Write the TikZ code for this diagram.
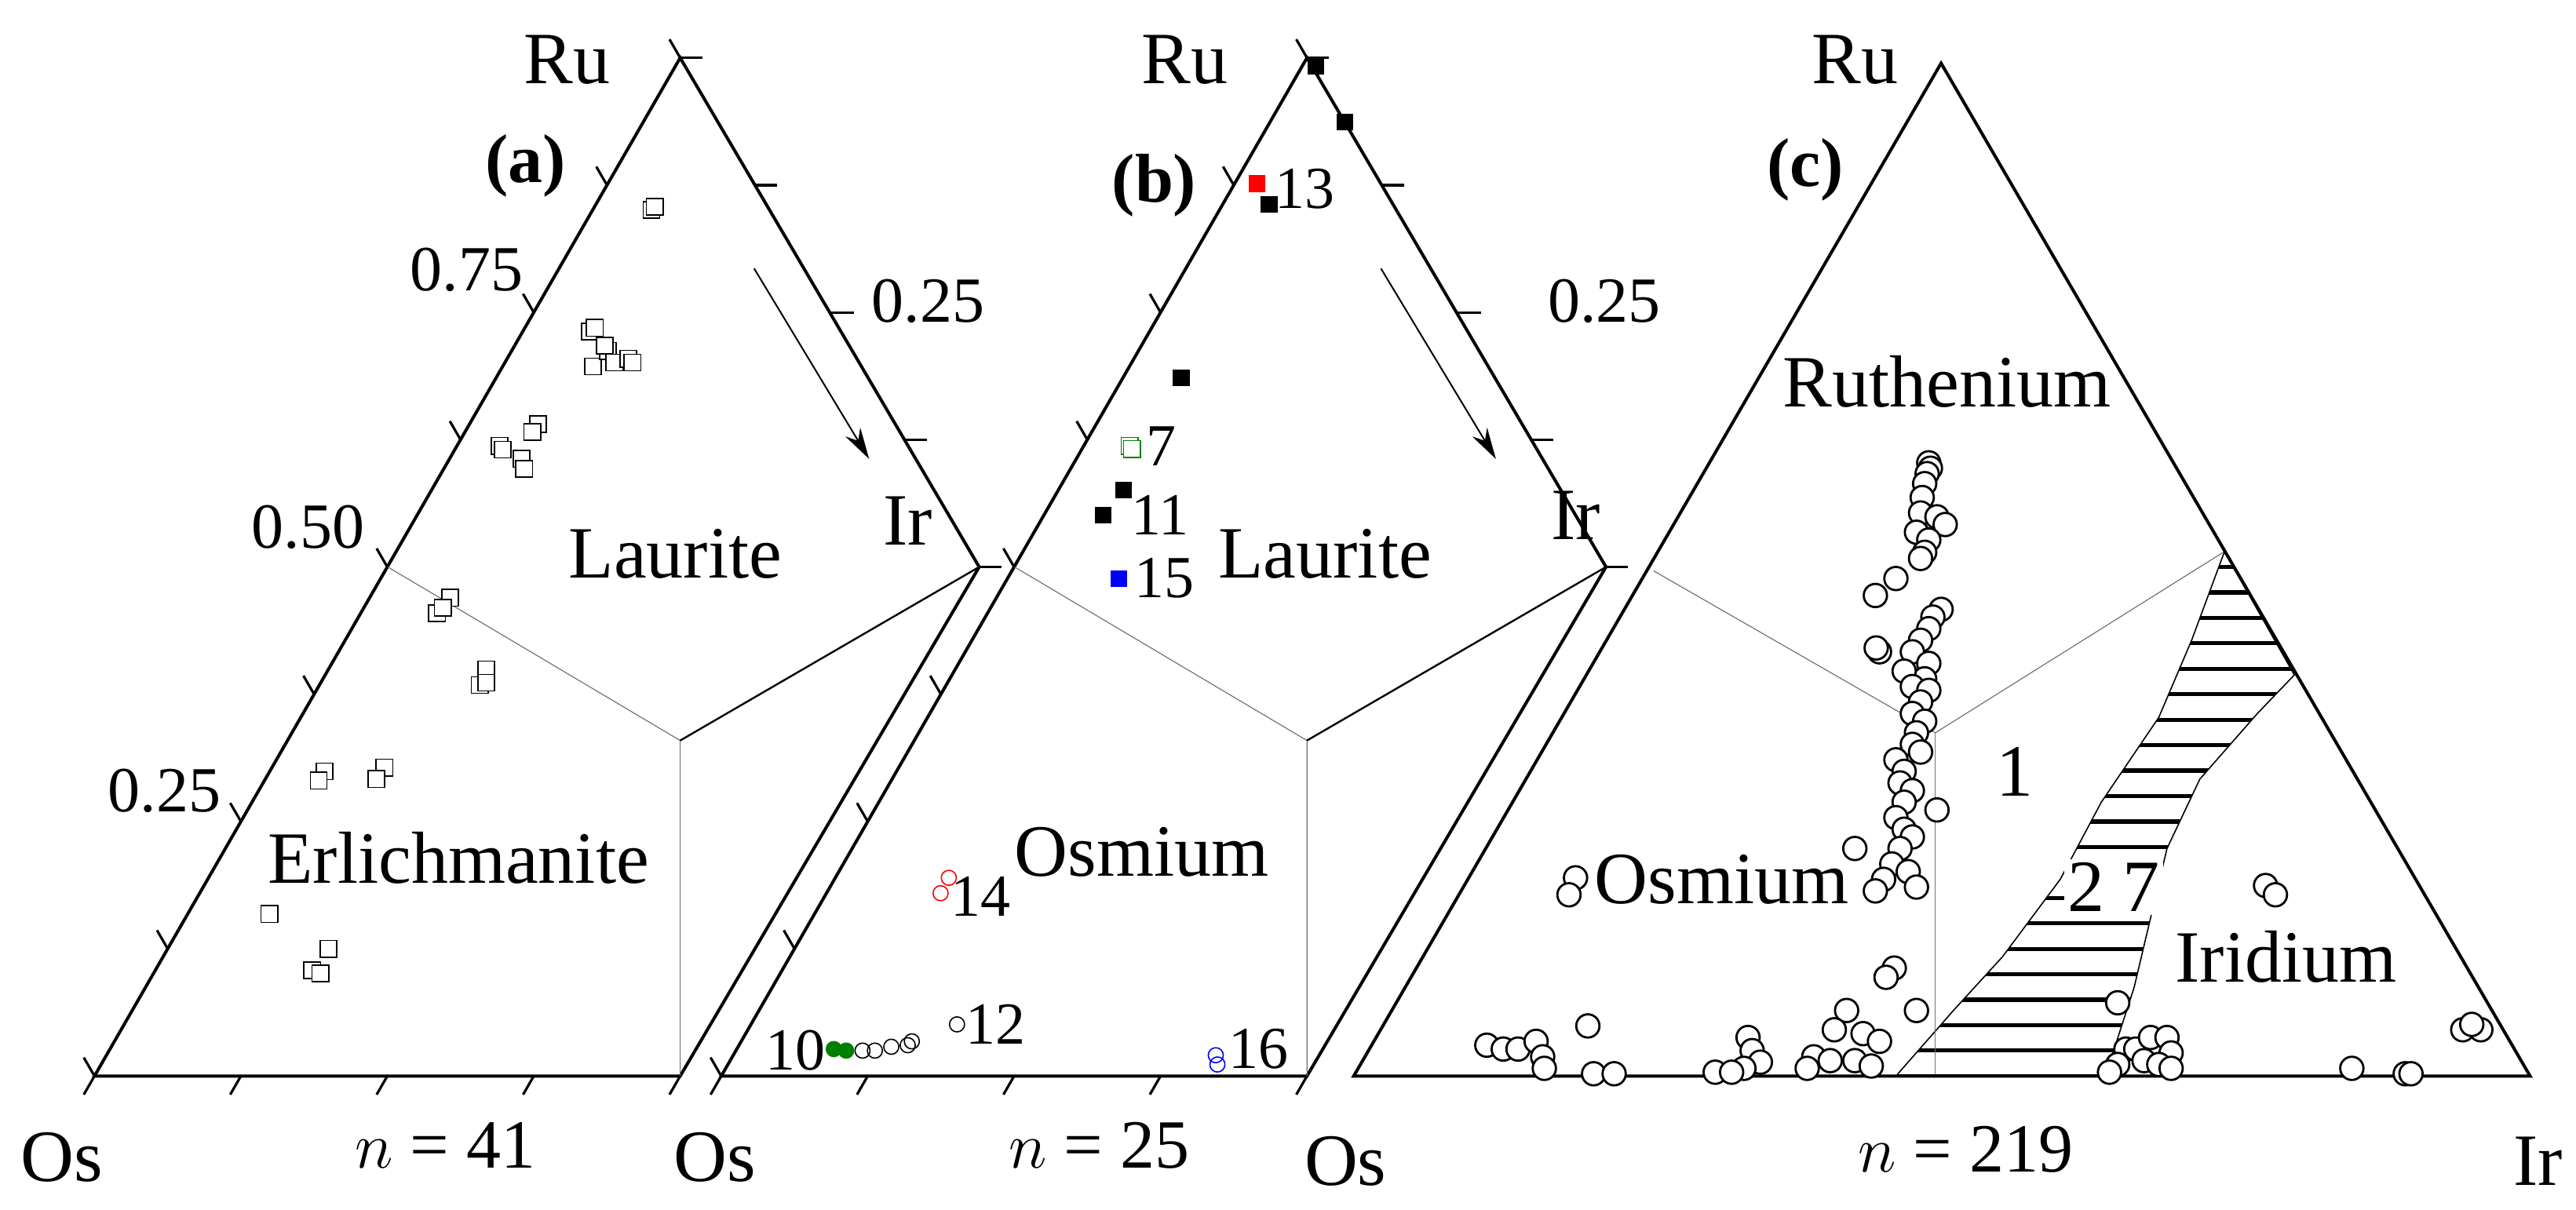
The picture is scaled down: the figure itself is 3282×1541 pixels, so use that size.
\documentclass[tikz,border=0pt]{standalone}
\usepackage{fontspec}
\setmainfont{Liberation Serif}
\usetikzlibrary{arrows.meta}
\begin{document}
\begin{tikzpicture}[x=0.25pt,y=-0.25pt,
  edge/.style={line width=1pt,line join=miter},
  thin gray/.style={line width=0.3pt,draw=black!55},
  tk/.style={line width=0.8pt},
  big/.style={font=\fontsize{23.5}{23.5}\selectfont,inner sep=0},
  nn/.style={font=\fontsize{22}{22}\selectfont,inner sep=0},
  mid/.style={font=\fontsize{20.5}{20.5}\selectfont,inner sep=0},
  sml/.style={font=\fontsize{19}{19}\selectfont,inner sep=0},
  bld/.style={font=\fontsize{22}{22}\selectfont\bfseries,inner sep=0},
  sq/.style={draw,fill=white,minimum size=5.3pt,inner sep=0,line width=0.4pt},
  bsq/.style={fill=black,minimum size=5.3pt,inner sep=0},
  oc/.style={circle,draw,minimum size=4.8pt,inner sep=0,line width=0.4pt},
  cc/.style={circle,draw,fill=white,minimum size=7.4pt,inner sep=0,line width=0.7pt},
  arr/.style={line width=0.5pt,-{Stealth[length=10pt,width=5.5pt]}}]
\useasboundingbox (0,0) rectangle (3282,1541);
\newcommand\pframe{%
  \draw[edge] (115,1395) -- (828,75) -- (1192,735) -- (828,1395) -- cycle;
  \draw[thin gray] (472,735) -- (828,960) -- (828,1395);
  \draw[line width=0.6pt] (828,960) -- (1192,735);
  \foreach \t in {0,...,8} \draw[tk] ({115+713*\t/8},{1395-1320*\t/8}) -- +(-13,-24);
  \foreach \t in {0,...,4} \draw[tk] ({828+91*\t},{75+165*\t}) -- +(27,0);
  \draw[tk] (1010,405) -- +(30,0);
  \foreach \k in {0,...,4} \draw[tk] ({115+178.25*\k},1395) -- +(-13,24);
  \draw[arr] (918,348) -- (1058,595);
}
\begin{scope}[xscale=1.0466,yscale=0.983]
  % panel (a)
  \pframe
  \node[big] (Rua) at (690,78) {Ru};
  \node[bld] (la) at (640,215) {(a)};
  \node[mid] (a75) at (568,350) {0.75};
  \node[mid] (a50) at (375,683) {0.50};
  \node[mid] (a25) at (200,1025) {0.25};
  \node[mid] (ar25) at (1130,390) {0.25};
  \node[big] (Ira) at (1105,675) {Ir};
  \node[big] (Laua) at (822,718) {Laurite};
  \node[big] (Erl) at (558,1112) {Erlichmanite};
  \node[big] (Osa) at (75,1500) {Os};
  \node[nn] (na) at (542,1485) {$n$ = 41};
  \foreach \x/\y in {793/272,797/268, 718/430,724/425,722/475,740/455,748/470,765/465,770/470,736/448,
    608/578,612/583,635/595,638/608,655/550,648/560,
    548/775,532/795,539/788, 592/868,584/888,592/885,
    395/1000,388/1012,468/995,458/1010, 328/1185, 400/1230,380/1258,390/1262}
    \node[sq] at (\x,\y) {};
  % panel (b)
  \begin{scope}[shift={(763,0)}]
    \pframe
  \end{scope}
  \node[big] (Rub) at (1442,78) {Ru};
  \node[bld] (lb) at (1405,240) {(b)};
  \node[mid] (br25) at (1953,390) {0.25};
  \node[big] (Irb) at (1918,668) {Ir};
  \node[big] (Laub) at (1613,718) {Laurite};
  \node[big] (Osmb) at (1390,1105) {Osmium};
  \node[big] (Osb) at (870,1500) {Os};
  \node[nn] (nb) at (1338,1485) {$n$ = 25};
  \foreach \x/\y in {1545/265,1602/86,1637/158,1438/490,1368/635,1343/668}
    \node[bsq] at (\x,\y) {};
  \node[bsq,fill=red] at (1530,238) {};
  \node[bsq,fill=blue] at (1362,750) {};
  \node[sq,draw=green!50!black] at (1375,578) {};
  \node[sq,draw=green!50!black] at (1378,582) {};
  \node[sml] (l13) at (1588,245) {13};
  \node[sml] (l7) at (1414,578) {7};
  \node[sml] (l11) at (1412,668) {11};
  \node[sml] (l15) at (1417,750) {15};
  \node[sml] (l14) at (1194,1162) {14};
  \node[sml] (l12) at (1212,1328) {12};
  \node[sml] (l10) at (968,1362) {10};
  \node[sml] (l16) at (1532,1360) {16};
  \node[oc,draw=red] at (1155,1138) {};
  \node[oc,draw=red] at (1145,1158) {};
  \foreach \x/\y in {1050/1362,1065/1362,1085/1357,1105/1355,1110/1350,1165/1328}
    \node[oc] at (\x,\y) {};
  \node[oc,fill=green!50!black,draw=green!50!black] at (1015,1360) {};
  \node[oc,fill=green!50!black,draw=green!50!black] at (1030,1362) {};
  \node[oc,draw=blue] at (1480,1368) {};
  \node[oc,draw=blue] at (1482,1380) {};
\end{scope}
% panel (c)
\begin{scope}[shift={(1641,0)},xscale=1.0466,yscale=0.983]
  \begin{scope}
    \clip (1140,715) -- (1225,875) -- (1180,925) -- (1110,1010) -- (1070,1100) -- (1030,1280) -- (995,1395)
      -- (740,1395) -- (810,1310) -- (870,1240) -- (940,1140) -- (990,1040) -- (1060,930) -- (1100,830) -- cycle;
    \foreach \y in {735,768,...,1400} \draw[line width=1.3pt] (700,\y) -- (1250,\y);
  \end{scope}
  \draw[line width=0.4pt] (1140,715) -- (1225,875) -- (1180,925) -- (1110,1010) -- (1070,1100) -- (1030,1280) -- (995,1395);
  \draw[line width=0.4pt] (740,1395) -- (810,1310) -- (870,1240) -- (940,1140) -- (990,1040) -- (1060,930) -- (1100,830) -- (1140,715);
  \draw[thin gray] (445,740) -- (788,950) -- (1140,715);
  \draw[thin gray] (788,950) -- (788,1395);
  \draw[edge] (80,1395) -- (795,82) -- (1512,1395) -- cycle;
  \node[big] (Ruc) at (690,78) {Ru};
  \node[bld] (lc) at (630,220) {(c)};
  \node[big] (Ruth) at (802,495) {Ruthenium};
  \node[big] (l1) at (885,1000) {1};
  \node[big,fill=white,inner sep=1pt] (l27) at (1005,1150) {2 7};
  \foreach \x/\y in {780/600,782/607,778/614,775/627,772/645,770/665,790/670,800/680,765/690,780/700,775/716,770/724,
    740/750,715/772,795/790,785/800,780/815,770/830,760/845,780/860,775/880,750/870,760/890,780/895,770/910,760/925,775/935,765/950,760/965,770/975,740/985,750/1000,745/1015,760/1025,750/1040,790/1050,740/1060,750/1075,760/1085,745/1100,735/1120,755/1130,725/1140,765/1150,715/1155,690/1100,720/845,716/840,
    738/1255,728/1267, 350/1138,342/1160, 1190/1148,1202/1160, 1010/1300,
    765/1310,680/1310,665/1335,700/1340,720/1350,640/1370,660/1375,690/1375,710/1382,632/1385,560/1345,565/1362,575/1377,555/1385,520/1390,540/1390,365/1330,242/1355,262/1360,280/1360,302/1350,310/1370,312/1385,372/1392,397/1392,
    1020/1360,1032/1360,1050/1345,1070/1345,1075/1365,1042/1375,1060/1380,1010/1380,1075/1385,1000/1390,1295/1385,1360/1392,1367/1392,1430/1335,1452/1335,1441/1328}
    \node[cc] at (\x,\y) {};
  \node[big] (Osmc) at (528,1140) {Osmium};
  \node[big] (Irid) at (1215,1240) {Iridium};
  \node[big] (Osc) at (70,1505) {Os};
  \node[nn] (nc) at (825,1490) {$n$ = 219};
  \node[big] (Irc) at (1522,1505) {Ir};
\end{scope}
\end{tikzpicture}
\end{document}
